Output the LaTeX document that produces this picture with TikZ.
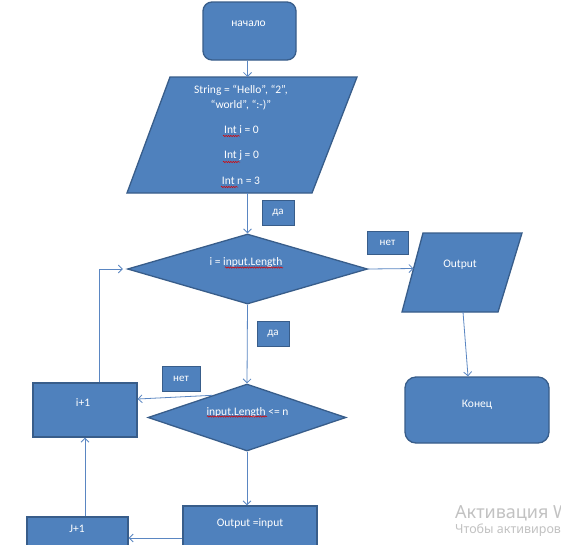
\documentclass[tikz,border=0pt]{standalone}
\usepackage{fontspec}
\setmainfont{Carlito}
\newfontfamily\wmfont{Noto Sans}
\usetikzlibrary{arrows.meta,shapes.geometric,decorations.pathmorphing,calc}
\definecolor{boxfill}{HTML}{4F81BD}
\definecolor{boxedge}{HTML}{385D8A}
\definecolor{wire}{HTML}{5A86C2}
\definecolor{wmgray}{HTML}{C2C2C2}
\begin{document}
\begin{tikzpicture}[x=1pt,y=-1pt,
  blk/.style={fill=boxfill,draw=boxedge,line width=1.3pt,inner sep=0pt},
  tag/.style={blk,line width=1pt,text=white,font=\fontsize{11}{13}\selectfont},
  txt/.style={text=white,font=\fontsize{11.5}{13}\selectfont,inner sep=0pt},
  flow/.style={draw=wire,line width=0.8pt,-{Straight Barb[length=4pt,width=8pt]}},
  spell/.style={draw=red!85!black,line width=0.5pt,decorate,
    decoration={snake,amplitude=0.7pt,segment length=2.4pt}}]

\useasboundingbox (0,0) rectangle (561,544);
\fill[white] (0,0) rectangle (561,544);
\clip (0,0) rectangle (561,544);

% start
\node[blk,rectangle,rounded corners=9pt,minimum width=93pt,minimum height=58pt] (start) at (249.5,31) {};
\node[txt] (startT) at (248.5,24) {начало};

% input parallelogram
\coordinate (inN) at (247.5,77);
\coordinate (inS) at (247.5,193);
\draw[blk] (170,77) -- (357,77) -- (312,193) -- (127,193) -- cycle;
\node[txt] (s1) at (241,90) {String = “Hello”, “2”,};
\node[txt] (s2) at (241,105) {“world”, “:-)”};
\node[txt] (s3) at (241.5,130) {Int i = 0};
\node[txt] (s4) at (241.5,156) {Int j = 0};
\node[txt] (s5) at (241,181) {Int n = 3};
\draw[spell] (223,136) -- (240,136);
\draw[spell] (223,162) -- (240,162);
\draw[spell] (221,187) -- (238,187);

% first decision
\node[blk,diamond,minimum width=240pt,minimum height=70pt] (d1) at (247.5,269) {};
\node[txt] (d1T) at (246,262) {i = input.Length};
\draw[spell] (225,267.5) -- (283,267.5);

% output parallelogram
\draw[blk] (423,233) -- (522,233) -- (498,312) -- (402,312) -- cycle;
\coordinate (outW) at (413.5,268.5);
\coordinate (outS) at (463,312);
\node[txt] (outT) at (460,265) {Output};

% end
\node[blk,rectangle,rounded corners=11pt,minimum width=144pt,minimum height=66pt] (end) at (477,410) {};
\node[txt] (endT) at (477,405) {Конец};

% second decision
\node[blk,diamond,minimum width=198pt,minimum height=67pt] (d2) at (247,417.5) {};
\node[txt] (d2T) at (247.5,412) {input.Length <= n};
\draw[spell] (207,416.5) -- (267,416.5);

% counters
\node[blk,rectangle,minimum width=104pt,minimum height=54pt] (inc) at (85,410) {};
\node[txt] (incT) at (83,403) {i+1};
\node[blk,rectangle,minimum width=101pt,minimum height=43pt] (jinc) at (77.5,538.5) {};
\node[txt] (jincT) at (77,529) {J+1};

% output = input
\node[blk,rectangle,minimum width=134pt,minimum height=54pt] (oi) at (250,533) {};
\node[txt] (oiT) at (250,523) {Output =input};

% branch labels
\node[tag,minimum width=32pt,minimum height=25pt] (yes1) at (278,212.5) {да};
\node[tag,minimum width=41pt,minimum height=23pt] (no1) at (387.5,242.5) {нет};
\node[tag,minimum width=32pt,minimum height=25pt] (yes2) at (273,333.5) {да};
\node[tag,minimum width=38pt,minimum height=25pt] (no2) at (181,378.5) {нет};

% connectors
\draw[flow] (start.south -| inN) -- (inN);
\draw[flow] (inS) -- (d1.north);
\draw[flow] (d1.east) -- (outW);
\draw[flow] (outS) -- ([xshift=-9pt]end.north);
\draw[flow] (d1.south) -- (d2.north);
\draw[flow] ($(d2.west)!0.65!(d2.north)$) -- ([yshift=11pt]inc.east);
\draw[flow] ([xshift=14pt]inc.north) |- ([xshift=-4pt]d1.west);
\draw[flow] (d2.south) -- (d2.south |- oi.north);
\draw[flow] ([yshift=-5pt]oi.west) -- ([yshift=-5pt]oi.west -| jinc.east);
\draw[flow] (inc.south |- jinc.north) -- (inc.south);

% system watermark, running off the right edge
\node[anchor=base west,inner sep=0pt,text=wmgray,font=\wmfont\fontsize{18}{20}\selectfont] (wm1) at (455,518.5) {Активация Windows};
\node[anchor=base west,inner sep=0pt,text=wmgray,font=\wmfont\fontsize{12.5}{14}\selectfont] (wm2) at (455,533) {Чтобы активировать Windows, перейдите в раздел};
\end{tikzpicture}
\end{document}
